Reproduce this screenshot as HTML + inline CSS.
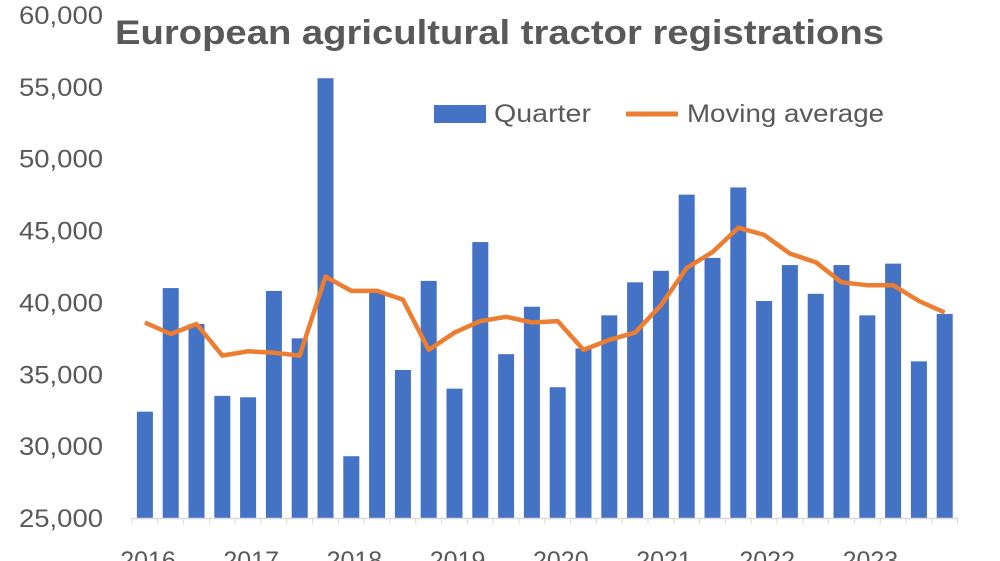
<!DOCTYPE html>
<html><head><meta charset="utf-8"><style>
body{margin:0;background:#fff;}
svg{display:block;font-family:"Liberation Sans",sans-serif;}
</style></head><body>
<svg width="1000" height="561" viewBox="0 0 1000 561" xmlns="http://www.w3.org/2000/svg">
<g id="g"></g>
</svg>
<script>
const vals=[32400,41000,38500,33500,33400,40800,37500,55600,29300,40700,35300,41500,34000,44200,36400,39700,34100,36800,39100,41400,42200,47500,43100,48000,40100,42600,40600,42600,39100,42700,35900,39200];
const ma=[38600,37800,38500,36300,36600,36500,36300,41800,40800,40800,40200,36700,37900,38700,39000,38600,38700,36700,37400,37900,39800,42400,43500,45200,44700,43400,42800,41400,41200,41200,40100,39300];
const y=v=>518-(v-25000)*(503/35000);
const x0=132,cw=25.8;
let s='';
for(let i=0;i<=7;i++){const v=25000+i*5000;s+=`<text x="103" y="${y(v)+9}" font-size="25" fill="#595959" text-anchor="end" textLength="84" lengthAdjust="spacingAndGlyphs">${v.toLocaleString('en-US')}</text>`;}
vals.forEach((v,i)=>{const cx=x0+cw*(i+0.5);s+=`<rect x="${cx-8}" y="${y(v)}" width="16" height="${518-y(v)}" fill="#4472C4"/>`;});
s+=`<line x1="${x0}" y1="518.5" x2="958" y2="518.5" stroke="#d9d9d9" stroke-width="1.5"/>`;
for(let i=0;i<=32;i++){const xx=x0+cw*i;s+=`<line x1="${xx}" y1="518" x2="${xx}" y2="524" stroke="#d9d9d9"/>`;}
s+=`<polyline fill="none" stroke="#ED7D31" stroke-width="4.5" stroke-linejoin="round" points="${ma.map((v,i)=>(x0+cw*(i+0.5)).toFixed(1)+','+y(v).toFixed(1)).join(' ')}"/>`;
for(let k=0;k<8;k++){s+=`<text x="${148+k*103.2}" y="569" font-size="25" fill="#595959" text-anchor="middle">${2016+k}</text>`;}
s+=`<text x="115" y="44" font-size="34" font-weight="bold" fill="#595959" textLength="769" lengthAdjust="spacingAndGlyphs">European agricultural tractor registrations</text>`;
s+=`<rect x="434" y="105" width="52" height="18" fill="#4472C4"/><text x="494" y="122" font-size="25" fill="#595959" textLength="97" lengthAdjust="spacingAndGlyphs">Quarter</text>`;
s+=`<line x1="626" y1="114" x2="678" y2="114" stroke="#ED7D31" stroke-width="5"/><text x="687" y="122" font-size="25" fill="#595959" textLength="197" lengthAdjust="spacingAndGlyphs">Moving average</text>`;
document.getElementById('g').innerHTML=s;
</script>
</body></html>
